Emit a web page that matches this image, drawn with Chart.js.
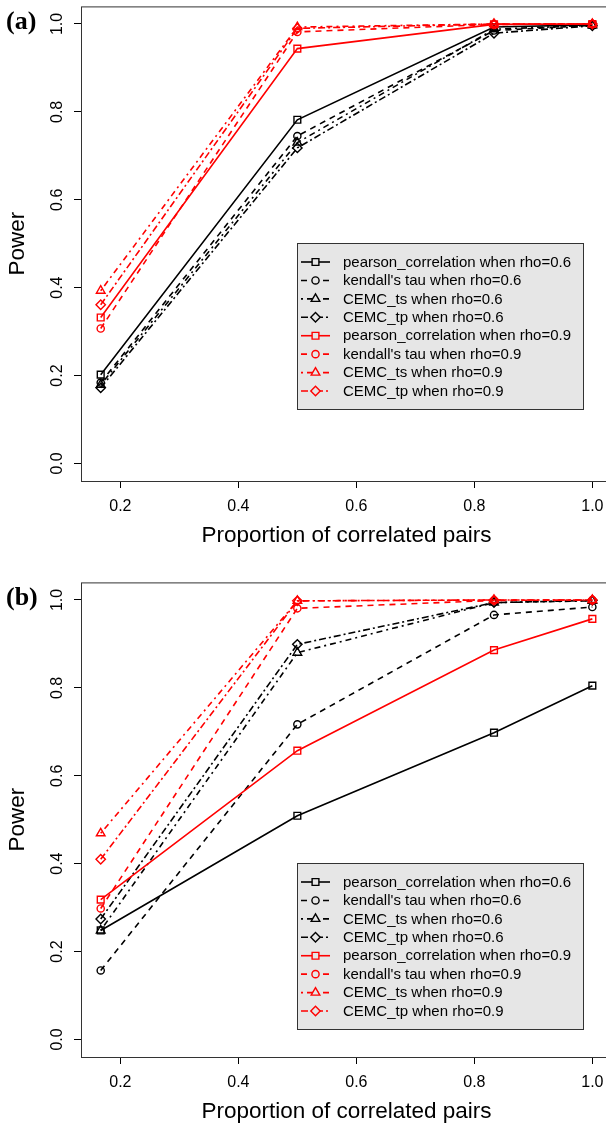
<!DOCTYPE html>
<html>
<head>
<meta charset="utf-8">
<script src="https://cdn.jsdelivr.net/npm/chart.js@4.4.1/dist/chart.umd.min.js"></script>
<style>
  html, body { margin: 0; padding: 0; background: #fff; }
  #wrap { position: relative; width: 606px; height: 1124px; overflow: hidden; }
  canvas { position: absolute; left: 0; }
</style>
</head>
<body>
<div id="wrap">
  <canvas id="chartA" width="620" height="576" style="top:0px"></canvas>
  <canvas id="chartB" width="620" height="576" style="top:576px"></canvas>
</div>
<script>
// x positions and tick labels
const propCorrelated = [0.1667, 0.5, 0.8333, 1.0];
const xTickValues = [0.2, 0.4, 0.6, 0.8, 1.0];
const yTickValues = [0.0, 0.2, 0.4, 0.6, 0.8, 1.0];

const seriesLabels = [
  'pearson_correlation when rho=0.6',
  "kendall's tau when rho=0.6",
  'CEMC_ts when rho=0.6',
  'CEMC_tp when rho=0.6',
  'pearson_correlation when rho=0.9',
  "kendall's tau when rho=0.9",
  'CEMC_ts when rho=0.9',
  'CEMC_tp when rho=0.9'
];

// panel (a)
const pearson06A = [0.202, 0.782, 0.993, 0.998];
const kendall06A = [0.184, 0.745, 0.985, 0.997];
const ts06A      = [0.179, 0.730, 0.988, 0.997];
const tp06A      = [0.172, 0.718, 0.979, 0.996];
const pearson09A = [0.332, 0.944, 0.999, 1.000];
const kendall09A = [0.307, 0.982, 0.999, 1.000];
const ts09A      = [0.393, 0.993, 1.000, 1.000];
const tp09A      = [0.361, 0.990, 1.000, 1.000];

// panel (b)
const pearson06B = [0.248, 0.509, 0.698, 0.805];
const kendall06B = [0.157, 0.717, 0.966, 0.984];
const ts06B      = [0.248, 0.880, 0.994, 0.998];
const tp06B      = [0.274, 0.899, 0.994, 0.999];
const pearson09B = [0.318, 0.657, 0.886, 0.957];
const kendall09B = [0.298, 0.981, 0.999, 1.000];
const ts09B      = [0.469, 0.998, 1.000, 1.000];
const tp09B      = [0.410, 0.998, 1.000, 1.000];

// styles per series
const seriesColors = ['#000000', '#000000', '#000000', '#000000', '#ff0000', '#ff0000', '#ff0000', '#ff0000'];
const methodDash = [[], [6, 5], [2, 4, 6, 4], [7, 3, 2, 3]];
const methodMarker = [
  { style: 'rect', radius: 4.8 },
  { style: 'circle', radius: 3.6 },
  { style: 'triangle', radius: 5.0 },
  { style: 'rectRot', radius: 4.7 }
];

const FONT = '"Liberation Sans", Arial, Helvetica, sans-serif';
Chart.defaults.font.family = FONT;
Chart.defaults.color = '#000';

function drawMarker(ctx, style, radius, x, y) {
  if (Chart.helpers && Chart.helpers.drawPoint) {
    Chart.helpers.drawPoint(ctx, { pointStyle: style, radius, rotation: 0, borderWidth: 1.4 }, x, y);
    return;
  }
  ctx.beginPath();
  ctx.arc(x, y, radius, 0, Math.PI * 2);
  ctx.stroke();
}

const panelDecor = {
  id: 'panelDecor',
  afterDraw(chart, args, opts) {
    const { ctx, chartArea: a } = chart;
    const yScale = chart.scales.y;
    ctx.save();

    // plot box
    ctx.strokeStyle = '#333';
    ctx.lineWidth = 1;
    ctx.strokeRect(a.left + 0.5, a.top + 0.5, a.right - a.left, a.bottom - a.top);

    // y tick labels, rotated like R
    ctx.fillStyle = '#000';
    ctx.font = '16px ' + FONT;
    ctx.textAlign = 'center';
    ctx.textBaseline = 'middle';
    yTickValues.forEach(v => {
      ctx.save();
      ctx.translate(58, yScale.getPixelForValue(v));
      ctx.rotate(-Math.PI / 2);
      ctx.fillText(v.toFixed(1), 0, 0);
      ctx.restore();
    });

    // panel tag
    ctx.font = 'bold 26px "Liberation Serif", "Times New Roman", serif';
    ctx.textAlign = 'left';
    ctx.fillText(opts.tag, 6, 22);

    // legend
    const lx = 297, lw = 286, lh = 166, ly = opts.legendTop;
    ctx.fillStyle = '#e6e6e6';
    ctx.fillRect(lx, ly, lw, lh);
    ctx.strokeStyle = '#333';
    ctx.strokeRect(lx + 0.5, ly + 0.5, lw, lh);
    ctx.font = '15px ' + FONT;
    ctx.textBaseline = 'middle';
    chart.data.datasets.forEach((ds, i) => {
      const ry = ly + 19 + i * 18.43;
      ctx.strokeStyle = ds.borderColor;
      ctx.lineWidth = 1.6;
      ctx.setLineDash(ds.borderDash);
      ctx.beginPath();
      ctx.moveTo(301, ry);
      ctx.lineTo(330, ry);
      ctx.stroke();
      ctx.setLineDash([]);
      ctx.lineWidth = 1.4;
      ctx.fillStyle = '#e6e6e6';
      drawMarker(ctx, ds.pointStyle, ds.pointRadius, 315.5, ry);
      ctx.fillStyle = '#000';
      ctx.fillText(ds.label, 343, ry + 0.5);
    });

    ctx.restore();
  }
};

function makeChart(canvasId, seriesValues, tag, legendTop) {
  const datasets = seriesValues.map((vals, i) => {
    const m = i % 4;
    return {
      label: seriesLabels[i],
      data: vals.map((v, j) => ({ x: propCorrelated[j], y: v })),
      borderColor: seriesColors[i],
      backgroundColor: seriesColors[i],
      borderWidth: 1.6,
      borderDash: methodDash[m],
      pointStyle: methodMarker[m].style,
      pointRadius: methodMarker[m].radius,
      pointBorderWidth: 1.4,
      pointBorderColor: seriesColors[i],
      pointBackgroundColor: 'rgba(0,0,0,0)',
      tension: 0,
      fill: false,
      order: i < 4 ? 1 : 0
    };
  });

  return new Chart(document.getElementById(canvasId), {
    type: 'line',
    data: { datasets },
    plugins: [panelDecor],
    options: {
      responsive: false,
      animation: false,
      devicePixelRatio: 1,
      events: [],
      layout: { padding: { top: 6, right: 8, left: 0, bottom: 0 } },
      plugins: {
        legend: { display: false },
        tooltip: { enabled: false },
        panelDecor: { tag, legendTop }
      },
      scales: {
        x: {
          type: 'linear',
          min: 0.1333,
          max: 1.0333,
          afterBuildTicks: (scale) => { scale.ticks = xTickValues.map(v => ({ value: v })); },
          afterFit: (scale) => { scale.height = 95; },
          border: { display: false },
          grid: { drawOnChartArea: false, drawTicks: true, tickLength: 7, color: '#000', lineWidth: 1 },
          ticks: { font: { size: 16 }, color: '#000', padding: 9, maxRotation: 0, callback: v => v.toFixed(1) },
          title: { display: true, text: 'Proportion of correlated pairs', font: { size: 22.5 }, color: '#000', padding: { top: 0, bottom: 27 } }
        },
        y: {
          type: 'linear',
          min: -0.04,
          max: 1.04,
          afterBuildTicks: (scale) => { scale.ticks = yTickValues.map(v => ({ value: v })); },
          afterFit: (scale) => { scale.width = 81; },
          border: { display: false },
          grid: { drawOnChartArea: false, drawTicks: true, tickLength: 7, color: '#000', lineWidth: 1 },
          ticks: { font: { size: 1 }, color: 'rgba(0,0,0,0)', callback: v => v.toFixed(1) },
          title: { display: true, text: 'Power', font: { size: 22.5 }, color: '#000', padding: { top: 4, bottom: 0 } }
        }
      }
    }
  });
}

makeChart('chartA',
  [pearson06A, kendall06A, ts06A, tp06A, pearson09A, kendall09A, ts09A, tp09A],
  '(a)', 243);
makeChart('chartB',
  [pearson06B, kendall06B, ts06B, tp06B, pearson09B, kendall09B, ts09B, tp09B],
  '(b)', 287);
</script>
</body>
</html>
